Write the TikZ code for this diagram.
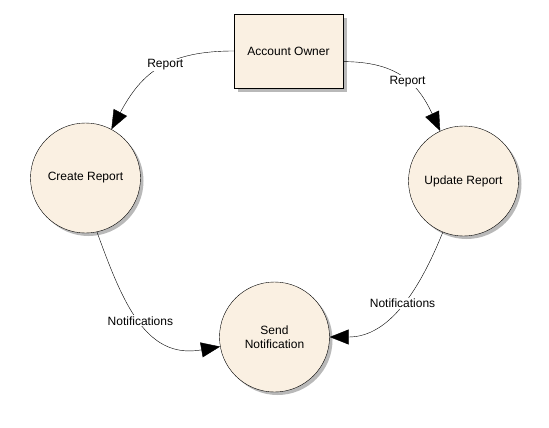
\documentclass[tikz,border=0pt]{standalone}
\usepackage{fontspec}
\setmainfont{Liberation Sans}
\usetikzlibrary{arrows.meta,shadows}

\definecolor{procfill}{RGB}{250,240,226}
\definecolor{shadowgray}{RGB}{185,185,185}

\tikzset{
  entity/.style  = {draw, thin, fill=procfill, minimum width=109pt, minimum height=74pt,
                    inner sep=0pt, drop shadow={shadow xshift=4pt, shadow yshift=-4pt,
                    fill=shadowgray, opacity=1}},
  process/.style = {circle, draw, thin, fill=procfill, minimum size=110pt, inner sep=0pt,
                    align=center, drop shadow={shadow xshift=3pt, shadow yshift=-3pt,
                    fill=shadowgray, opacity=1}},
  flow/.style    = {-{Triangle[length=19pt,width=15pt]}, thin, looseness=1.15},
  flowlabel/.style = {fill=white, inner sep=1pt},
  every node/.append style = {font=\fontsize{12}{14}\selectfont}
}

\begin{document}
\begin{tikzpicture}[x=1pt,y=-1pt]

\useasboundingbox (0,0) rectangle (549,428);

\node[entity]  (owner)  at (288.5,51)  {Account Owner};
\node[process] (create) at (85.5,178)  {Create Report};
\node[process] (update) at (463.5,181) {Update Report};
\node[process] (notify) at (274.5,337) {Send\\Notification};

\draw[flow] (owner.west) to[out=180,in=62]
  node[flowlabel,pos=0.45] (lblA) {Report} (create);
\draw[flow] (owner.-11) to[out=0,in=115]
  node[flowlabel,pos=0.55] (lblB) {Report} (update);

\draw[flow] (create.-78) to[out=-70,in=190]
  node[flowlabel,pos=0.5] (lblC) {Notifications} (notify);
\draw[flow] (update.-112) to[out=-112,in=0,looseness=1]
  node[flowlabel,pos=0.48] (lblD) {Notifications} (notify);

\end{tikzpicture}
\end{document}
